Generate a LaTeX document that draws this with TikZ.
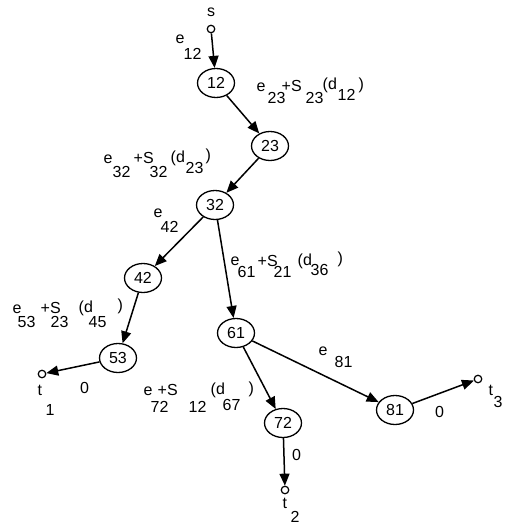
\documentclass[tikz,border=0pt]{standalone}
\usepackage{fontspec}
\setmainfont{Liberation Sans}
\usetikzlibrary{arrows.meta,shapes.geometric}
\newcommand\pc[3]{\makebox[0pt][l]{\hspace*{#1pt}\raisebox{-#2pt}{#3}}}
\begin{document}
\begin{tikzpicture}[x=1pt,y=-1pt,
  lab/.style={anchor=base west,inner sep=0pt,font=\fontsize{16}{19}\selectfont},
  vert/.style={draw,ellipse,line width=1.3pt,minimum width=37pt,minimum height=29pt,inner sep=0pt,font=\fontsize{16}{19}\selectfont},
  term/.style={draw,circle,line width=1.2pt,minimum size=7.5pt,inner sep=0pt},
  edge/.style={line width=1.5pt,-{Triangle[length=12pt,width=10pt]}}]
\useasboundingbox (0,0) rectangle (516,527);
% vertices
\node[vert] (n12) at (216,83) {12};
\node[vert] (n23) at (270,146) {23};
\node[vert] (n32) at (215,205) {32};
\node[vert] (n42) at (143,278) {42};
\node[vert] (n53) at (118,358) {53};
\node[vert] (n61) at (236,333) {61};
\node[vert] (n72) at (283,423) {72};
\node[vert] (n81) at (395,410) {81};
% terminals
\node[term] (s) at (211,29) {};
\node[term] (t1) at (42,374) {};
\node[term] (t2) at (285,490) {};
\node[term] (t3) at (478,379) {};
% edges
\draw[edge] (s) -- (n12);
\draw[edge] (n12) -- (n23);
\draw[edge] (n23) -- (n32);
\draw[edge] (n32) -- (n42);
\draw[edge] (n32) -- (n61);
\draw[edge] (n42) -- (n53);
\draw[edge] (n53) -- (t1);
\draw[edge] (n61) -- (n72);
\draw[edge] (n61) -- (n81);
\draw[edge] (n72) -- (t2);
\draw[edge] (n81) -- (t3);
% labels
\node[lab] (ls) at (207,17) {s};
\node[lab] (l12) at (175,44) {\pc{0}{0}{e}\pc{8}{16}{12}};
\node[lab] (l23) at (256,92) {\pc{0}{0}{e}\pc{11}{11}{23}\pc{25}{0}{+S}\pc{49}{11}{23}\pc{66}{-2}{(d}\pc{81}{9}{12}\pc{102}{-2}{)}};
\node[lab] (l32) at (103,163) {\pc{0}{0}{e}\pc{9}{14}{32}\pc{30}{0}{+S}\pc{46}{14}{32}\pc{67}{-1}{(d}\pc{82}{10}{23}\pc{102}{-3}{)}};
\node[lab] (l42) at (153,217) {\pc{0}{0}{e}\pc{7}{15}{42}};
\node[lab] (l61) at (230,265) {\pc{0}{0}{e}\pc{7}{12}{61}\pc{27}{1}{+S}\pc{43}{12}{21}\pc{67}{0}{(d}\pc{80}{10}{36}\pc{107}{-2}{)}};
\node[lab] (l53) at (12,313) {\pc{0}{0}{e}\pc{5}{14}{53}\pc{28}{0}{+S}\pc{38}{14}{23}\pc{66}{-1}{(d}\pc{76}{14}{45}\pc{105}{-3}{)}};
\node[lab] (l72) at (143,395) {\pc{0}{0}{e}\pc{14}{0}{+S}\pc{67}{-1}{(d}\pc{105}{-2}{)}\pc{7}{17}{72}\pc{45}{17}{12}\pc{79}{15}{67}};
\node[lab] (l81) at (318,355) {\pc{0}{0}{e}\pc{16}{12}{81}};
\node[lab] (z1) at (80,393) {0};
\node[lab] (z2) at (292,460) {0};
\node[lab] (z3) at (435,417) {0};
\node[lab] (lt1) at (37,395) {\pc{0}{0}{t}\pc{8}{20}{1}};
\node[lab] (lt2) at (282,508) {\pc{0}{0}{t}\pc{8}{14}{2}};
\node[lab] (lt3) at (488,395) {\pc{0}{0}{t}\pc{5}{12}{3}};
\end{tikzpicture}
\end{document}
